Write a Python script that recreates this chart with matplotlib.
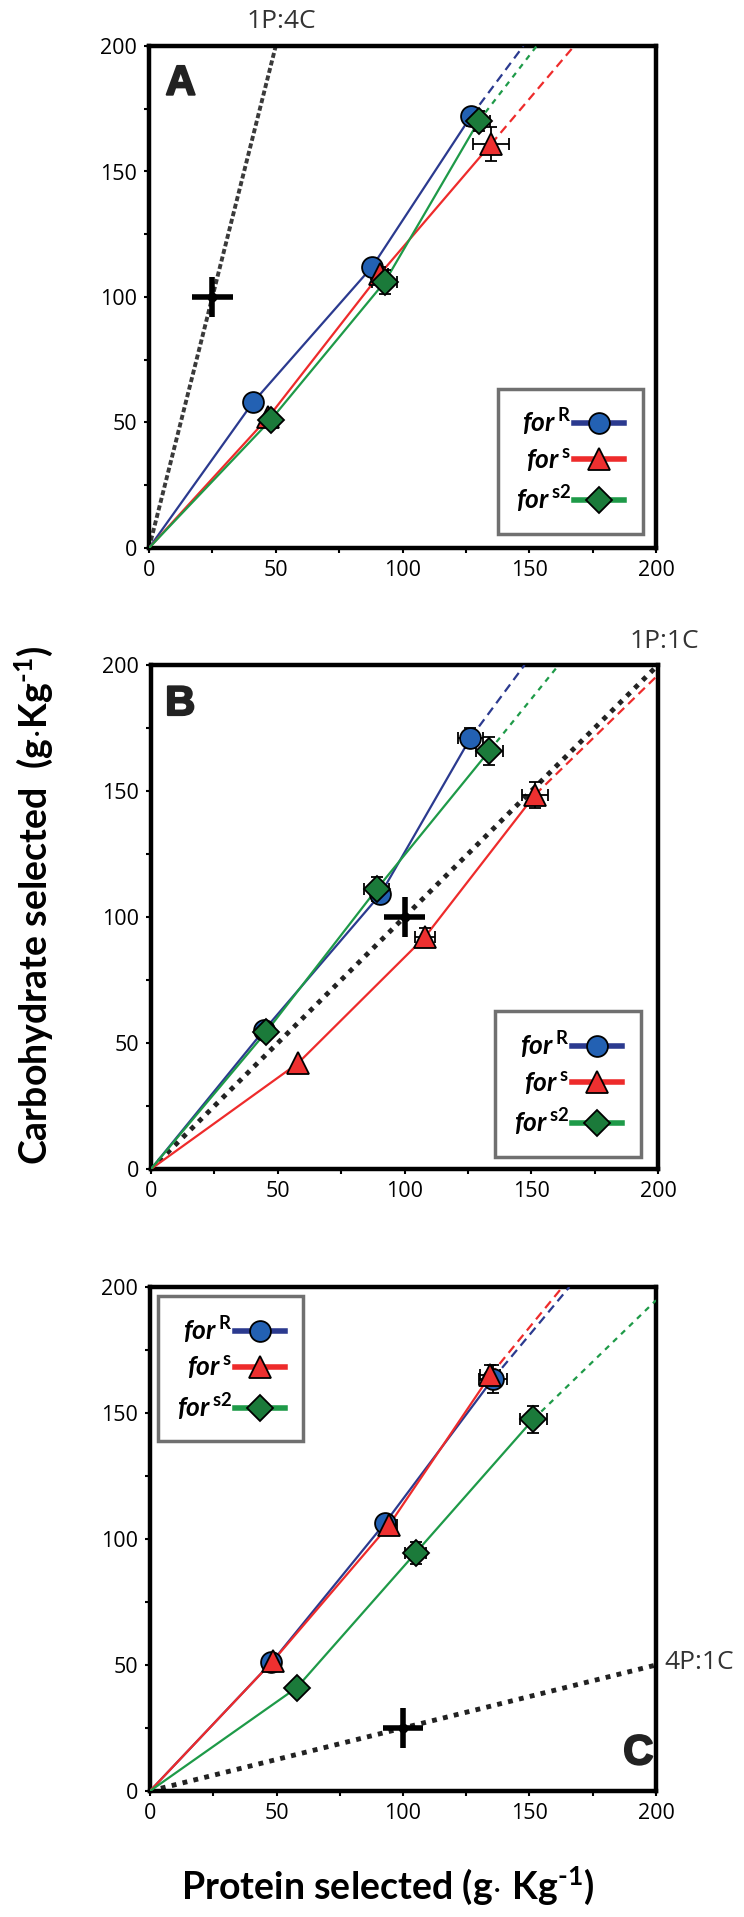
import matplotlib
matplotlib.use("Agg")
import matplotlib.pyplot as plt
import matplotlib.patheffects as pe
from matplotlib.lines import Line2D
from matplotlib.ticker import MultipleLocator

plt.rcParams['font.family'] = ['Open Sans', 'DejaVu Sans']
plt.rcParams['mathtext.fontset'] = 'custom'
plt.rcParams['mathtext.rm'] = 'Lato:bold'
plt.rcParams['mathtext.bf'] = 'Lato:bold'
plt.rcParams['mathtext.it'] = 'Lato:italic:bold'

# Panel A: 1P:4C diet
A_forR_x = [41, 88, 127]
A_forR_y = [58, 112, 172]
A_forR_xerr = [0, 1, 2]
A_forR_yerr = [0, 1, 2]
A_forS_x = [47, 91, 135]
A_forS_y = [52, 109, 161]
A_forS_xerr = [0, 3.3, 7]
A_forS_yerr = [0, 2.8, 6.7]
A_forS2_x = [48, 93, 130]
A_forS2_y = [51, 106, 170]
A_forS2_xerr = [1, 5, 4.7]
A_forS2_yerr = [1, 4.8, 4]

# Panel B: 1P:1C diet
B_forR_x = [44.5, 90.5, 126]
B_forR_y = [55, 109, 171]
B_forR_xerr = [1, 3, 5]
B_forR_yerr = [1, 3, 4]
B_forS_x = [58, 108, 151.5]
B_forS_y = [42, 92, 148.5]
B_forS_xerr = [0, 4, 5.2]
B_forS_yerr = [0, 3.7, 5.1]
B_forS2_x = [45.5, 89, 133.5]
B_forS2_y = [54.5, 111, 166]
B_forS2_xerr = [1, 4.8, 5.2]
B_forS2_yerr = [1, 4.8, 5.5]

# Panel C: 4P:1C diet
C_forR_x = [48, 93, 135.5]
C_forR_y = [51, 106.5, 163.5]
C_forR_xerr = [1, 3, 5.6]
C_forR_yerr = [1, 3, 5.7]
C_forS_x = [48.5, 94.5, 134.5]
C_forS_y = [51.5, 105.5, 165]
C_forS_xerr = [1, 3, 4]
C_forS_yerr = [1, 3, 4]
C_forS2_x = [58, 105, 151.5]
C_forS2_y = [41, 94.5, 147.5]
C_forS2_xerr = [0, 4.2, 5.4]
C_forS2_yerr = [0, 4.4, 5.3]

# intake targets (protein, carbohydrate) and their spread
targets = [(25, 100), (100, 100), (100, 25)]
target_err = 8
ratio_slopes = [4, 1, 0.25]
ratio_names = ['1P:4C', '1P:1C', '4P:1C']
panel_letters = ['A', 'B', 'C']

styles = {
    'forR': dict(line='#2B3A8F', fill='#2361B3', marker='o', ms=15,
                 label=r'$\mathit{for}^{\,\mathbf{R}}$', dash=(0, (4, 2.5))),
    'forS': dict(line='#EE2B2B', fill='#EE3030', marker='^', ms=16,
                 label=r'$\mathit{for}^{\,\mathbf{s}}$', dash=(0, (4, 2.5))),
    'forS2': dict(line='#1E9A48', fill='#1B7A3A', marker='D', ms=13,
                  label=r'$\mathit{for}^{\,\mathbf{s2}}$', dash=(0, (2.5, 2.5))),
}
order = ['forR', 'forS', 'forS2']

panels = [
    {'forR': (A_forR_x, A_forR_y, A_forR_xerr, A_forR_yerr),
     'forS': (A_forS_x, A_forS_y, A_forS_xerr, A_forS_yerr),
     'forS2': (A_forS2_x, A_forS2_y, A_forS2_xerr, A_forS2_yerr)},
    {'forR': (B_forR_x, B_forR_y, B_forR_xerr, B_forR_yerr),
     'forS': (B_forS_x, B_forS_y, B_forS_xerr, B_forS_yerr),
     'forS2': (B_forS2_x, B_forS2_y, B_forS2_xerr, B_forS2_yerr)},
    {'forR': (C_forR_x, C_forR_y, C_forR_xerr, C_forR_yerr),
     'forS': (C_forS_x, C_forS_y, C_forS_xerr, C_forS_yerr),
     'forS2': (C_forS2_x, C_forS2_y, C_forS2_xerr, C_forS2_yerr)},
]

W, H = 744, 1917
fig = plt.figure(figsize=(W / 100, H / 100), dpi=100)

# axes boxes in pixels: left, right, top, bottom
boxes = [(149, 656, 46, 548), (151, 658, 665, 1169), (150, 656, 1287, 1791)]
legend_anchor = [('lower right', (0.974, 0.028)),
                 ('lower right', (0.966, 0.024)),
                 ('upper left', (0.016, 0.982))]
letter_pos = [(12.5, 185), (11.5, 184.5), (193, 15)]

for i, data in enumerate(panels):
    l, r, t, b = boxes[i]
    ax = fig.add_axes([l / W, (H - b) / H, (r - l) / W, (b - t) / H])
    ax.set_xlim(0, 200)
    ax.set_ylim(0, 200)

    # diet ratio rail
    slope = ratio_slopes[i]
    xe = min(200, 200 / slope)
    if i == 0:
        ax.plot([0, xe], [0, xe * slope], color='#3a3a3a', lw=2.8,
                ls=(0, (1.3, 0.7)), zorder=2, clip_on=False)
    else:
        ax.plot([0, xe], [0, xe * slope], color='#222222', lw=3.5,
                ls=(0, (1, 1.3)), zorder=2, clip_on=False)
    if i == 2:
        ax.annotate(ratio_names[i], (xe, xe * slope), xytext=(8, 3),
                    textcoords='offset pixels', ha='left', va='center',
                    fontsize=19, color='#333333', annotation_clip=False)
    else:
        ax.annotate(ratio_names[i], (xe, xe * slope), xytext=(6, 24),
                    textcoords='offset pixels', ha='center', va='center',
                    fontsize=19, color='#333333', annotation_clip=False)

    # intake target
    tx, ty = targets[i]
    ax.errorbar([tx], [ty], xerr=target_err, yerr=target_err, fmt='o',
                color='black', ms=6, elinewidth=4, capsize=0, zorder=6)

    for key in order:
        xs, ys, xerr, yerr = data[key]
        st = styles[key]
        ax.plot([0] + xs, [0] + ys, color=st['line'], lw=1.6, zorder=3)
        # projection of the last point along its rail
        k = min(200 / xs[-1], 200 / ys[-1])
        ax.plot([xs[-1], xs[-1] * k], [ys[-1], ys[-1] * k],
                color=st['line'], lw=1.6, ls=st['dash'], zorder=3)
        ax.errorbar(xs, ys, xerr=xerr, yerr=yerr, fmt='none', ecolor='black',
                    elinewidth=1.3, capsize=4, capthick=1.3, zorder=4)
        ax.plot(xs, ys, ls='none', marker=st['marker'], ms=st['ms'],
                mfc=st['fill'], mec='black', mew=1.3, zorder=5)

    handles = [Line2D([], [], color=styles[k]['line'], lw=4,
                      marker=styles[k]['marker'], ms=styles[k]['ms'],
                      mfc=styles[k]['fill'], mec='black', mew=1.3)
               for k in order]
    labels = [styles[k]['label'] for k in order]
    loc, anchor = legend_anchor[i]
    leg = ax.legend(handles, labels, loc=loc, bbox_to_anchor=anchor,
                    borderaxespad=0, markerfirst=False, fontsize=19,
                    handlelength=1.9, handletextpad=0.1, labelspacing=0.35,
                    borderpad=0.7, fancybox=False, framealpha=1)
    leg.get_frame().set_edgecolor('#707070')
    leg.get_frame().set_linewidth(2.5)

    lx, ly = letter_pos[i]
    ax.text(lx, ly, panel_letters[i], fontsize=30, fontweight='bold',
            family='Liberation Sans', ha='center', va='center', color='#222222',
            path_effects=[pe.withStroke(linewidth=1.5, foreground='#222222')])

    for s in ax.spines.values():
        s.set_linewidth(3.2)
    ax.xaxis.set_major_locator(MultipleLocator(50))
    ax.yaxis.set_major_locator(MultipleLocator(50))
    ax.xaxis.set_minor_locator(MultipleLocator(25))
    ax.yaxis.set_minor_locator(MultipleLocator(25))
    ax.tick_params(which='both', direction='out', length=3.5, width=1.5,
                   labelsize=15.5, pad=5)

fig.text(34 / W, 1 - 905 / H, r'Carbohydrate selected  (g$\cdot$Kg$^{\text{-1}}$)',
         rotation=90, ha='center', va='center', fontsize=27,
         family='Lato', fontweight='bold')
fig.text(388 / W, 1 - 1886 / H, r'Protein selected (g$\cdot$ Kg$^{\text{-1}}$)',
         ha='center', va='center', fontsize=27, family='Lato',
         fontweight='bold')

fig.savefig('out.png', dpi=100)
